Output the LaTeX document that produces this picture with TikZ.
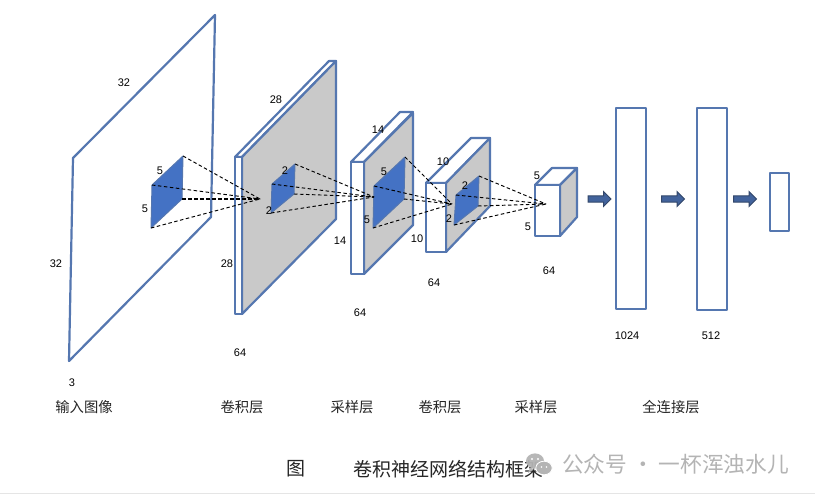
\documentclass[tikz,border=0pt]{standalone}
\usepackage{fontspec}
\setmainfont{Liberation Sans}
\newfontfamily\cjkfont{Noto Sans CJK SC}
\usetikzlibrary{shapes.arrows}
\definecolor{edgeblue}{HTML}{5577B0}
\definecolor{fillblue}{HTML}{4472C4}
\definecolor{facegrey}{HTML}{C9C9C9}
\definecolor{wmgrey}{HTML}{B4B4B4}
\tikzset{
  box/.style={draw=edgeblue,line width=2.2pt,line join=round,fill=white},
  greyface/.style={draw=edgeblue,line width=2.2pt,line join=round,fill=facegrey},
  patch/.style={draw=edgeblue,line width=1pt,line join=round,fill=fillblue},
  ray/.style={dashed,dash pattern=on 3.5pt off 2.5pt,line width=.95pt,black},
  heavyray/.style={ray,line width=1.7pt},
  dimlabel/.style={font=\fontsize{11}{13}\selectfont,inner sep=0pt,text=black,yshift=-.7pt},
  layerlabel/.style={font=\cjkfont\fontsize{14.3}{16}\selectfont,inner sep=0pt,text=black!85},
  caption/.style={font=\cjkfont\fontsize{19}{21}\selectfont,inner sep=0pt,text=black!85},
  watermark/.style={font=\cjkfont\fontsize{21.7}{24}\selectfont,inner sep=0pt,text=wmgrey},
  flow/.style={single arrow,draw=edgeblue!60!black,fill=edgeblue!60!fillblue!85!black,line width=.9pt,
    minimum width=15pt,minimum height=23pt,single arrow head extend=3pt,single arrow head indent=0pt,inner sep=1.7pt,outer sep=0pt},
}
\begin{document}
\begin{tikzpicture}[x=1pt,y=-1pt]
\useasboundingbox (0,0) rectangle (815,496);
\fill[white] (0,0) rectangle (815,496);
\draw[black!10,line width=1.5pt] (0,493.5) -- (815,493.5);

% input plane
\draw[box,fill=none] (73,158) -- (215,15) -- (211,217) -- (69,361) -- cycle;

% layer 2
\draw[box] (235,157) -- (329,61) -- (336,61) -- (242,157) -- cycle;
\draw[greyface] (242,157) -- (336,61) -- (336,219) -- (242,314) -- cycle;
\draw[box] (235,157) rectangle (242,314);

% layer 3
\draw[box] (351,162) -- (400,112) -- (413,112) -- (364,162) -- cycle;
\draw[greyface] (364,162) -- (413,113) -- (413,225) -- (364,274) -- cycle;
\draw[box] (351,162) rectangle (364,274);

% layer 4
\draw[box] (426,183) -- (471,138) -- (490,138) -- (446,183) -- cycle;
\draw[greyface] (446,183) -- (490,138) -- (490,206) -- (446,252) -- cycle;
\draw[box] (426,183) rectangle (446,252);

% cube
\draw[box] (535,185) -- (552,168) -- (577,168) -- (560,185) -- cycle;
\draw[greyface] (560,185) -- (577,168) -- (577,217) -- (560,236) -- cycle;
\draw[box] (535,185) rectangle (560,236);

% patches
\coordinate (a1) at (152,185); \coordinate (a2) at (183,156);
\coordinate (a3) at (182,199); \coordinate (a4) at (151,228);
\coordinate (b1) at (272,184); \coordinate (b2) at (295,164);
\coordinate (b3) at (294,194); \coordinate (b4) at (271,213);
\coordinate (c1) at (374,186); \coordinate (c2) at (405,157);
\coordinate (c3) at (404,199); \coordinate (c4) at (373,228);
\coordinate (d1) at (456,195); \coordinate (d2) at (479,176);
\coordinate (d3) at (478,206); \coordinate (d4) at (454,225);
\coordinate (fb) at (260,199);
\coordinate (fc) at (374,197);
\coordinate (fd) at (452,204);
\coordinate (fe) at (546,204);
\draw[patch] (a1) -- (a2) -- (a3) -- (a4) -- cycle;
\draw[patch] (b1) -- (b2) -- (b3) -- (b4) -- cycle;
\draw[patch] (c1) -- (c2) -- (c3) -- (c4) -- cycle;
\draw[patch] (d1) -- (d2) -- (d3) -- (d4) -- cycle;

% rays
\draw[ray] (a1) -- (fb); \draw[ray] (a2) -- (fb); \draw[heavyray] (a3) -- (fb); \draw[ray] (a4) -- (fb);
\draw[ray] (b1) -- (fc); \draw[ray] (b2) -- (fc); \draw[ray] (b3) -- (fc); \draw[ray] (b4) -- (fc);
\draw[ray] (c1) -- (fd); \draw[ray] (c2) -- (fd); \draw[ray] (c3) -- (fd); \draw[ray] (c4) -- (fd);
\draw[ray] (d1) -- (fe); \draw[ray] (d2) -- (fe); \draw[ray] (d3) -- (fe); \draw[ray] (d4) -- (fe);

% fully connected
\node[box,outer sep=0pt,minimum width=30pt,minimum height=201pt,inner sep=0pt] (fc1) at (631,208.5) {};
\node[box,outer sep=0pt,minimum width=30pt,minimum height=202pt,inner sep=0pt] (fc2) at (712,209) {};
\node[box,outer sep=0pt,minimum width=19pt,minimum height=58pt,inner sep=0pt] (fc3) at (779.5,202) {};
\node[flow] (ar1) at (598,199) {};
\node[flow] (ar2) at (671.5,199) {};
\node[flow] (ar3) at (743.5,199) {};

% dimensions
\node[dimlabel] (t01) at (124,82) {32};
\node[dimlabel] (t02) at (56,263) {32};
\node[dimlabel] (t03) at (72,382) {3};
\node[dimlabel] (t04) at (160,170) {5};
\node[dimlabel] (t05) at (145,208) {5};
\node[dimlabel] (t06) at (276,99) {28};
\node[dimlabel] (t07) at (227,263) {28};
\node[dimlabel] (t08) at (240,352) {64};
\node[dimlabel] (t09) at (285,170) {2};
\node[dimlabel] (t10) at (269,210) {2};
\node[dimlabel] (t11) at (340,240) {14};
\node[dimlabel] (t12) at (378,129) {14};
\node[dimlabel] (t13) at (384,171) {5};
\node[dimlabel] (t14) at (367,219) {5};
\node[dimlabel] (t15) at (360,312) {64};
\node[dimlabel] (t16) at (443,161) {10};
\node[dimlabel] (t17) at (417,238) {10};
\node[dimlabel] (t18) at (465,185) {2};
\node[dimlabel] (t19) at (449,218) {2};
\node[dimlabel] (t20) at (434,282) {64};
\node[dimlabel] (t21) at (537,175) {5};
\node[dimlabel] (t22) at (528,226) {5};
\node[dimlabel] (t23) at (549,270) {64};
\node[dimlabel] (t24) at (627,335) {1024};
\node[dimlabel] (t25) at (711,335) {512};

% layer names
\node[layerlabel] (l1) at (84,407) {输入图像};
\node[layerlabel] (l2) at (242,407) {卷积层};
\node[layerlabel] (l3) at (352,407) {采样层};
\node[layerlabel] (l4) at (440,407) {卷积层};
\node[layerlabel] (l5) at (536,407) {采样层};
\node[layerlabel] (l6) at (671,407) {全连接层};

% caption
\node[caption] (c0) at (296,469) {图};
\node[caption] (c9) at (448.5,469) {卷积神经网络结构框架};

% watermark
\fill[wmgrey,opacity=.95] (535,461) ellipse (9pt and 7.6pt);
\fill[wmgrey,opacity=.95] (530,468) -- (528,473) -- (534,469) -- cycle;
\fill[wmgrey,draw=white,line width=.8pt] (544,468) ellipse (8.2pt and 6.8pt);
\fill[white] (532,459) circle (1.1pt) (538,459) circle (1.1pt) (541.5,467) circle (.9pt) (546.5,467) circle (.9pt);
\node[watermark,anchor=west] (w) at (562,464) {公众号 · 一杯浑浊水儿};
\end{tikzpicture}
\end{document}
